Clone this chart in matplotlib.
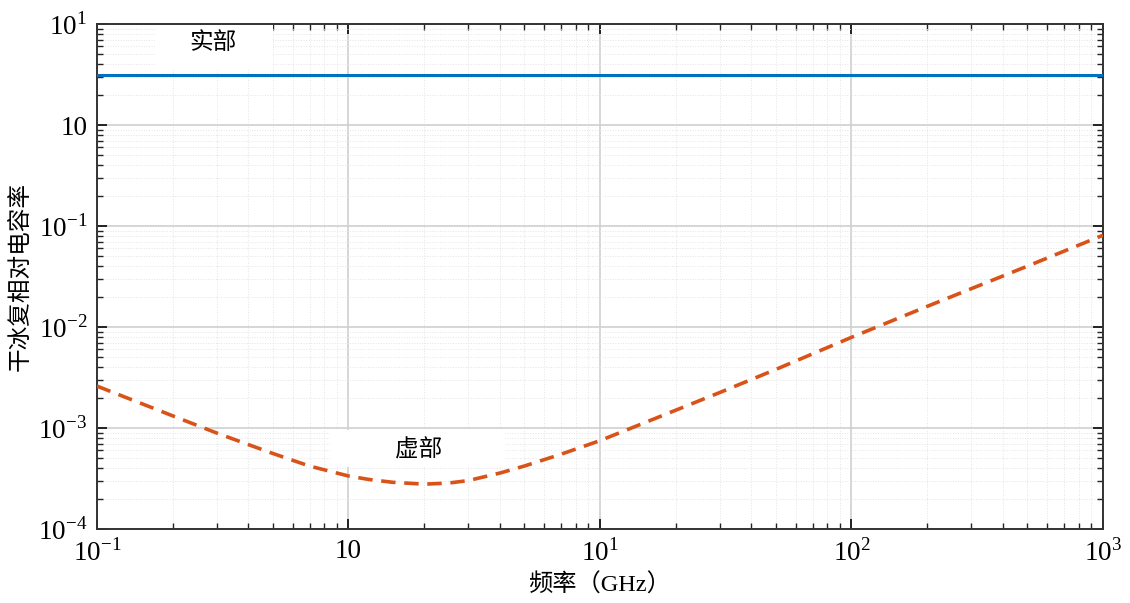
import matplotlib
matplotlib.use("Agg")
import matplotlib.pyplot as plt
from matplotlib.patches import Rectangle
from matplotlib.ticker import FixedLocator, FixedFormatter, LogLocator, NullFormatter

plt.rcParams['font.family'] = ['Liberation Serif', 'Noto Sans CJK SC', 'DejaVu Sans']
plt.rcParams['mathtext.fontset'] = 'custom'
plt.rcParams['mathtext.rm'] = 'Liberation Serif'

# dry ice permittivity vs frequency (GHz)
freq_re = [0.1, 1, 10, 100, 1000]
eps_re = [3.13, 3.13, 3.13, 3.13, 3.13]

freq_im = [0.1, 0.15, 0.2, 0.3, 0.5, 0.7, 1, 1.2, 1.5, 2, 2.5, 3, 4, 5, 7, 10,
           20, 30, 50, 100, 200, 300, 500, 1000]
eps_im = [2.6e-3, 1.75e-3, 1.32e-3, 8.9e-4, 5.6e-4, 4.2e-4, 3.35e-4, 3.1e-4,
          2.9e-4, 2.78e-4, 2.85e-4, 3.02e-4, 3.58e-4, 4.2e-4, 5.5e-4, 7.5e-4,
          1.5e-3, 2.25e-3, 3.8e-3, 7.9e-3, 1.6e-2, 2.4e-2, 4.0e-2, 8.1e-2]

xticks = [0.1, 1, 10, 100, 1000]
xlabels = [r'$10^{-1}$', '10', r'$10^{1}$', r'$10^{2}$', r'$10^{3}$']
yticks = [1e-4, 1e-3, 1e-2, 1e-1, 1, 10]
ylabels = [r'$10^{-4}$', r'$10^{-3}$', r'$10^{-2}$', r'$10^{-1}$', '10', r'$10^{1}$']

fig = plt.figure(figsize=(11.3, 6.03), dpi=100)
ax = fig.add_axes([0.0858, 0.1227, 0.8903, 0.8375])

ax.plot(freq_re, eps_re, color='#0072BD', lw=2.2, zorder=3)
ax.plot(freq_im, eps_im, color='#D95319', lw=2.6, dashes=(4, 2.4), zorder=3)

ax.set_xscale('log')
ax.set_yscale('log')
ax.set_xlim(0.1, 1000)
ax.set_ylim(1e-4, 10)

ax.xaxis.set_major_locator(FixedLocator(xticks))
ax.xaxis.set_major_formatter(FixedFormatter(xlabels))
ax.yaxis.set_major_locator(FixedLocator(yticks))
ax.yaxis.set_major_formatter(FixedFormatter(ylabels))
for axis in (ax.xaxis, ax.yaxis):
    axis.set_minor_locator(LogLocator(base=10, subs=range(2, 10), numticks=20))
    axis.set_minor_formatter(NullFormatter())

ax.tick_params(which='both', direction='in', top=True, right=True,
               colors='#222222', labelcolor='black')
ax.tick_params(which='major', length=7, width=1.4, labelsize=19.5, pad=7)
ax.tick_params(which='minor', length=4, width=1.0)

ax.set_axisbelow(True)
ax.grid(which='major', color='#cfcfcf', lw=1.2)
ax.grid(which='minor', color='#e4e4e4', lw=0.7, ls=':')
for s in ax.spines.values():
    s.set_color('#333333')
    s.set_linewidth(1.4)

# white label boxes
ax.add_patch(Rectangle((0.058, 0.909), 0.117, 0.091, transform=ax.transAxes,
                       facecolor='white', edgecolor='none', zorder=2))
ax.text(0.115, 0.962, '实部', transform=ax.transAxes, ha='center', va='center',
        fontsize=17, zorder=4)
ax.add_patch(Rectangle((0.232, 0.123), 0.174, 0.073, transform=ax.transAxes,
                       facecolor='white', edgecolor='none', zorder=2))
ax.text(0.320, 0.156, '虚部', transform=ax.transAxes, ha='center', va='center',
        fontsize=17, zorder=4)

ax.set_xlabel('频率（GHz）', fontsize=17.5, labelpad=5)
ax.set_ylabel('干冰复相对电容率', fontsize=17, labelpad=4)

fig.savefig('out.png', dpi=100)
